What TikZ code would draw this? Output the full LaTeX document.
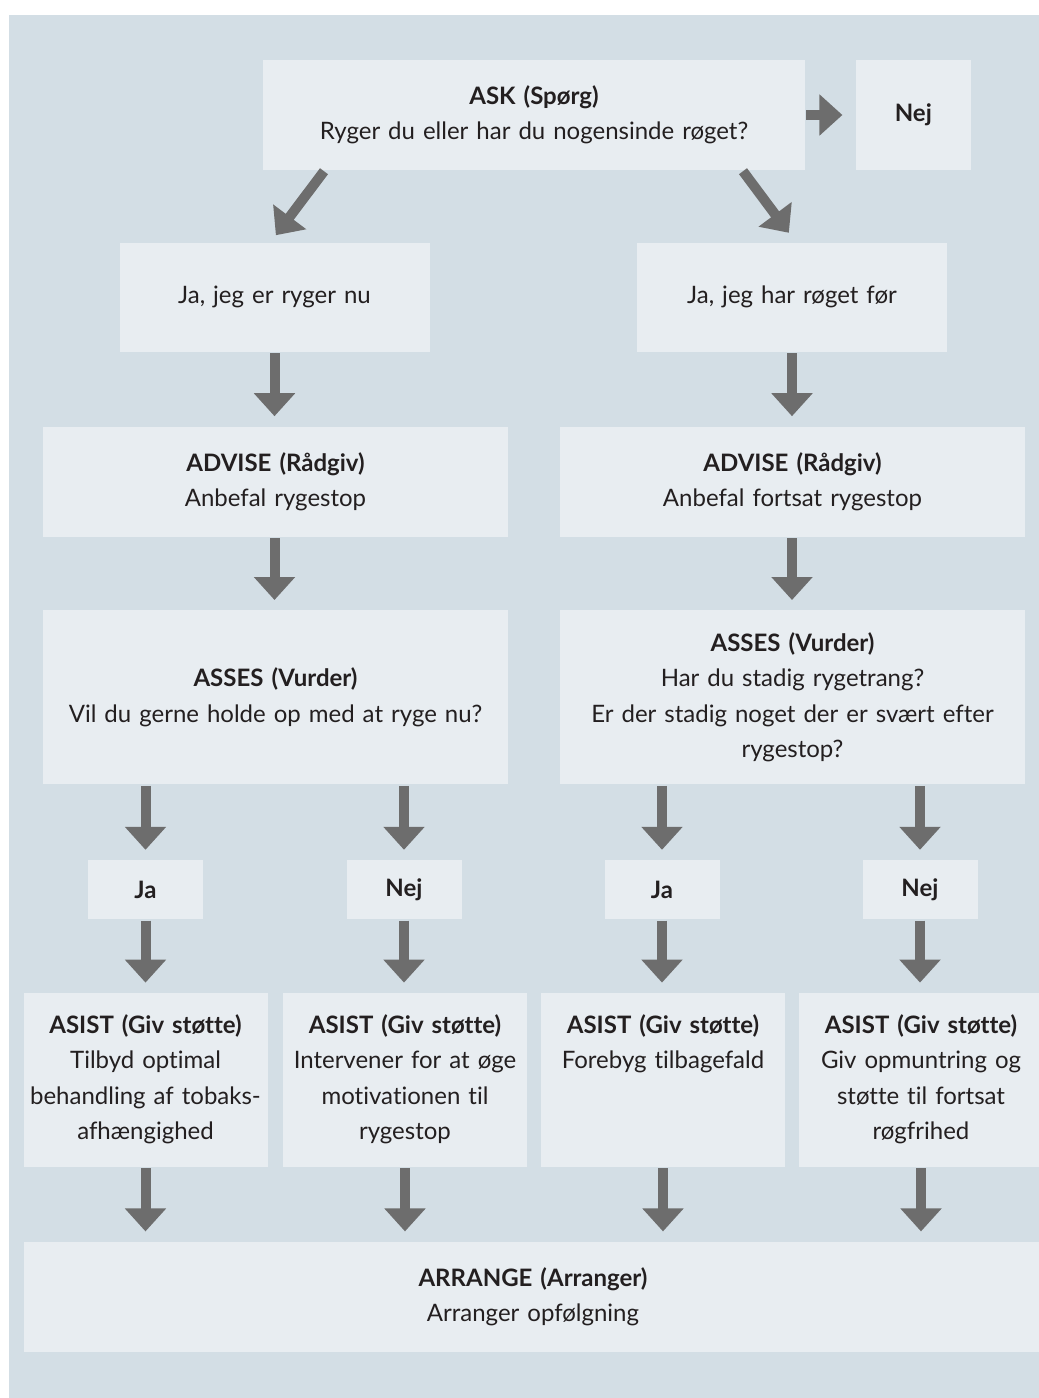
\documentclass[tikz,border=0pt]{standalone}
\usepackage{fontspec}
\setmainfont{Lato}[Ligatures=CommonOff]
\usepackage{tikz}
\usetikzlibrary{arrows.meta}
\usetikzlibrary{positioning}
\usepackage{xcolor}
\definecolor{panelblue}{HTML}{D3DEE5}
\definecolor{boxblue}{HTML}{E8EDF1}
\definecolor{arrowgray}{HTML}{6D6D6D}
\definecolor{textdark}{HTML}{231F20}
\tikzset{
	stage/.style={fill=boxblue, inner sep=0pt, align=center, text=textdark, font=\fontsize{12}{17.75}\selectfont},
	question/.style={stage, minimum width=271pt, minimum height=55pt, text width=265pt},
	answer/.style={stage, minimum width=155pt, minimum height=54.5pt, text width=150pt},
	advice/.style={stage, minimum width=232.5pt, minimum height=55pt, text width=228pt},
	assess/.style={stage, minimum width=232.5pt, minimum height=87pt, text width=230pt},
	reply/.style={stage, minimum width=57.5pt, minimum height=29.5pt, font=\fontsize{12}{17.75}\selectfont\bfseries},
	assist/.style={stage, minimum width=122pt, minimum height=87pt, text width=122pt, text height=9pt, text depth=56pt},
	arrange/.style={stage, minimum width=509.5pt, minimum height=55pt, text width=300pt},
	flow/.style={draw=arrowgray, line width=5pt, -{Triangle[width=20pt,length=11.5pt]}, shorten >=5pt, shorten <=0.5pt}
}

\begin{document}
\begin{tikzpicture}
	\clip (0,0) rectangle (519.5pt,-699pt);
	\fill[panelblue] (4.5pt,-7.5pt) rectangle (519.5pt,-699pt);

	\node[question] (ask) at (267pt,-57.5pt) {\textbf{ASK (Spørg)}\\Ryger du eller har du nogensinde røget?};
	\node[reply, minimum height=55pt] (askNo) [right=25pt of ask] {Nej};
	\draw[flow, shorten >=6.5pt] (ask.east) -- (askNo.west);

	\node[answer] (smoker) [below=36pt of ask, xshift=-129.75pt] {Ja, jeg er ryger nu};
	\node[answer] (former) [below=36pt of ask, xshift=129pt] {Ja, jeg har røget før};
	\draw[flow, shorten >=4.5pt] ([xshift=31pt]ask.south west) -- ([xshift=-2pt]smoker.north);
	\draw[flow, shorten >=6pt] ([xshift=-31.5pt]ask.south east) -- ([xshift=2pt]former.north);

	\node[advice] (adviseSmoker) [below=37pt of smoker, xshift=0.5pt] {\textbf{ADVISE (Rådgiv)}\\Anbefal rygestop};
	\node[advice] (adviseFormer) [below=37pt of former, xshift=0.25pt] {\textbf{ADVISE (Rådgiv)}\\Anbefal fortsat rygestop};
	\draw[flow] (smoker.south) -- (smoker.south |- adviseSmoker.north);
	\draw[flow] (former.south) -- (former.south |- adviseFormer.north);

	\node[assess] (assessSmoker) [below=36.5pt of adviseSmoker] {\textbf{ASSES (Vurder)}\\Vil du gerne holde op med at ryge nu?};
	\node[assess] (assessFormer) [below=36.5pt of adviseFormer] {\textbf{ASSES (Vurder)}\\Har du stadig rygetrang?\\Er der stadig noget der er svært efter\\rygestop?};
	\draw[flow] (smoker.south |- adviseSmoker.south) -- (smoker.south |- assessSmoker.north);
	\draw[flow] (former.south |- adviseFormer.south) -- (former.south |- assessFormer.north);

	\node[reply] (smokerYes) [below=37.5pt of assessSmoker, xshift=-65pt] {Ja};
	\node[reply] (smokerNo) [below=37.5pt of assessSmoker, xshift=64.25pt] {Nej};
	\node[reply] (formerYes) [below=37.5pt of assessFormer, xshift=-65.25pt] {Ja};
	\node[reply] (formerNo) [below=37.5pt of assessFormer, xshift=63.75pt] {Nej};
	\draw[flow] (smokerYes.north |- assessSmoker.south) -- (smokerYes.north);
	\draw[flow] (smokerNo.north |- assessSmoker.south) -- (smokerNo.north);
	\draw[flow] (formerYes.north |- assessFormer.south) -- (formerYes.north);
	\draw[flow] (formerNo.north |- assessFormer.south) -- (formerNo.north);

	\node[assist] (assistYes) [below=36.5pt of smokerYes] {\textbf{ASIST (Giv støtte)}\\Tilbyd optimal\\behandling af tobaks-\\afhængighed};
	\node[assist] (assistNo) [below=36.5pt of smokerNo, xshift=0.5pt] {\textbf{ASIST (Giv støtte)}\\Intervener for at øge\\motivationen til\\rygestop};
	\node[assist] (relapse) [below=36.5pt of formerYes, xshift=0.5pt] {\textbf{ASIST (Giv støtte)}\\Forebyg tilbagefald};
	\node[assist] (encourage) [below=36.5pt of formerNo, xshift=0.5pt] {\textbf{ASIST (Giv støtte)}\\Giv opmuntring og\\støtte til fortsat\\røgfrihed};
	\foreach \from/\to in {smokerYes/assistYes, smokerNo/assistNo, formerYes/relapse, formerNo/encourage}
		\draw[flow] (\from.south) -- (\from.south |- \to.north);

	\node[arrange] (arrange) [below=37pt of assistYes.south west, anchor=north west] {\textbf{ARRANGE (Arranger)}\\Arranger opfølgning};
	\foreach \src in {assistYes, assistNo, relapse, encourage}
		\draw[flow] (\src.south) -- (\src.south |- arrange.north);
\end{tikzpicture}
\end{document}
